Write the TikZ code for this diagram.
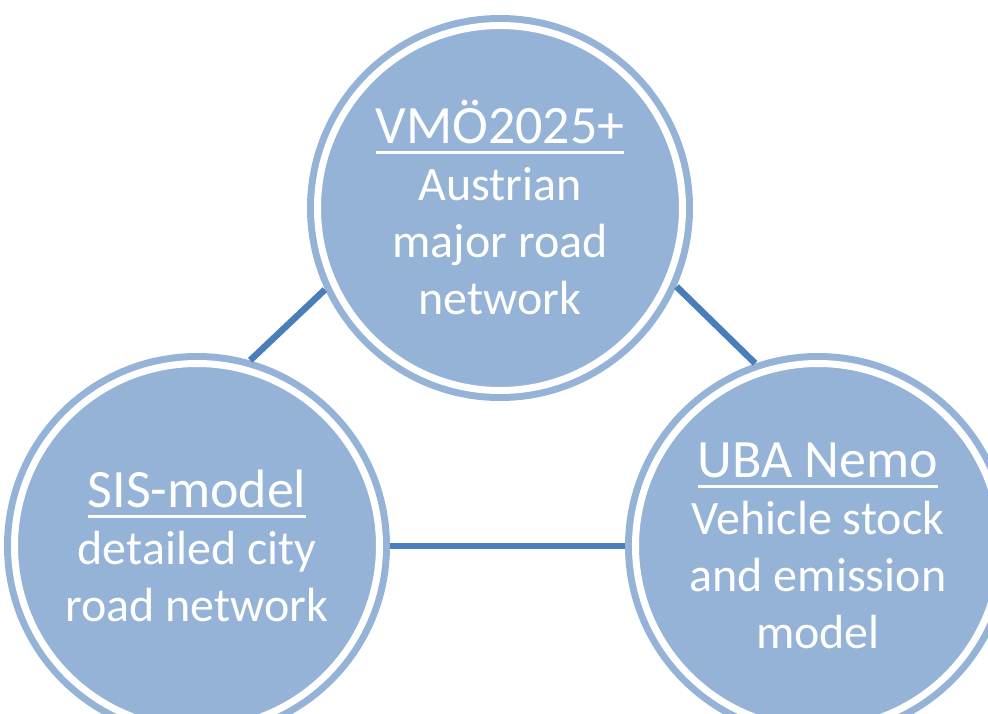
\documentclass[tikz,border=0pt]{standalone}
\usepackage{fontspec}
\setmainfont{Carlito}
\definecolor{ringblue}{HTML}{95B3D7}
\definecolor{lineblue}{HTML}{4A7EBB}
\newcommand\myul[1]{\vtop{\hbox{\fontsize{54}{57}\selectfont #1}\kern 7pt\hrule height 3pt}}
\tikzset{
  bubble/.style={circle, fill=ringblue, draw=none, minimum size=386pt, inner sep=0pt,
    text=white, align=center, font=\fontsize{48}{57}\selectfont},
  whitering/.style={draw=white, line width=7pt},
  link/.style={draw=lineblue, line width=6.5pt}
}
\begin{document}
\begin{tikzpicture}[x=1pt,y=-1pt]
\useasboundingbox (0,0) rectangle (988,713);
\clip (0,0) rectangle (988,713);
\coordinate (ctop) at (500,208);
\coordinate (cleft) at (197,546);
\coordinate (cright) at (818,546);
% circles
\node[bubble] (top) at (ctop) {};
\node[bubble] (left) at (cleft) {};
\node[bubble] (right) at (cright) {};
\draw[whitering] (ctop) circle[radius=182.5];
\draw[whitering] (cleft) circle[radius=182.5];
\draw[whitering] (cright) circle[radius=182.5];
% connectors
\draw[link] (top.205) -- (left.74);
\draw[link] (top.336) -- (right.109);
\draw[link] (left) -- (right);
% texts
\node[bubble, fill=none] (toptext) at (ctop) {\myul{VMÖ2025+}\\Austrian\\major road\\network};
\node[bubble, fill=none] (lefttext) at (cleft) {\myul{SIS-model}\\detailed city\\road network};
\node[bubble, fill=none] (righttext) at (cright) {\myul{UBA Nemo}\\Vehicle stock\\and emission\\model};
\end{tikzpicture}
\end{document}
